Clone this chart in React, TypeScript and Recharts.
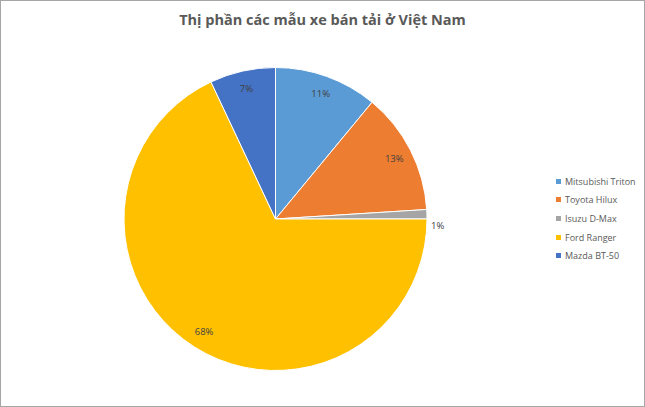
import { PieChart, Pie, Cell, Legend } from 'recharts'

const categories = ['Mitsubishi Triton', 'Toyota Hilux', 'Isuzu D-Max', 'Ford Ranger', 'Mazda BT-50']
const shares = [11, 13, 1, 68, 7]
const colors = ['#5B9BD5', '#ED7D31', '#A5A5A5', '#FFC000', '#4472C4']

const data = categories.map((name, i) => ({ name, value: shares[i] }))

const RADIAN = Math.PI / 180

function renderLabel(props: any) {
  const { cx, cy, midAngle, endAngle, outerRadius, value } = props
  // tiny slices get their label just outside the pie, below the slice (Excel best fit)
  const outside = value < 5
  const angle = outside ? endAngle : midAngle
  const r = outside ? outerRadius + 4 : outerRadius * 0.88
  const x = cx + r * Math.cos(-angle * RADIAN)
  const y = cy + r * Math.sin(-angle * RADIAN) + (outside ? 6 : 0)
  return (
    <text
      x={x}
      y={y}
      fill="#404040"
      fontSize={9.5}
      fontFamily="'Open Sans', sans-serif"
      textAnchor={outside ? 'start' : 'middle'}
      dominantBaseline="central"
    >
      {`${value}%`}
    </text>
  )
}

function LegendList() {
  return (
    <div style={{ fontFamily: "'Open Sans', sans-serif", fontSize: 9, color: '#595959' }}>
      {categories.map((name, i) => (
        <div key={name} style={{ display: 'flex', alignItems: 'center', height: 18.6 }}>
          <span style={{ width: 5, height: 5, background: colors[i], marginRight: 4, display: 'inline-block' }} />
          {name}
        </div>
      ))}
    </div>
  )
}

export default function App() {
  return (
    <div
      style={{
        position: 'absolute',
        left: 0,
        top: 0,
        width: 643,
        height: 405,
        border: '1px solid #a6a6a6',
        background: '#fff',
      }}
    >
      <div
        style={{
          position: 'absolute',
          top: 9,
          left: 0,
          width: '100%',
          textAlign: 'center',
          fontFamily: "'Open Sans', sans-serif",
          fontWeight: 700,
          fontSize: 14.5,
          color: '#595959',
        }}
      >
        Thị phần các mẫu xe bán tải ở Việt Nam
      </div>
      <PieChart
        width={643}
        height={405}
        margin={{ top: 0, right: 0, bottom: 0, left: 0 }}
        style={{ position: 'absolute', left: 0, top: 0 }}
      >
        <Pie
          data={data}
          dataKey="value"
          nameKey="name"
          cx={274.5}
          cy={218}
          outerRadius={151.5}
          startAngle={90}
          endAngle={-270}
          stroke="#fff"
          strokeWidth={1}
          label={renderLabel}
          labelLine={false}
          isAnimationActive={false}
        >
          {data.map((d, i) => (
            <Cell key={d.name} fill={colors[i]} />
          ))}
        </Pie>
        <Legend
          layout="vertical"
          content={<LegendList />}
          wrapperStyle={{ left: 555, top: 171, width: 90 }}
        />
      </PieChart>
    </div>
  )
}
